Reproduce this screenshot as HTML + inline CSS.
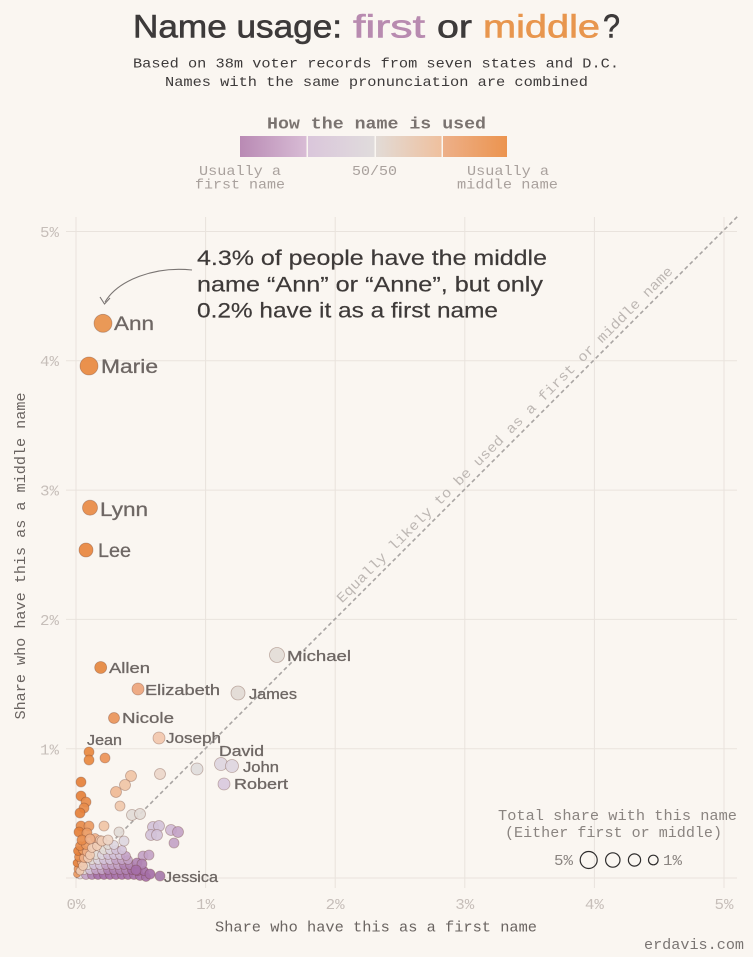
<!DOCTYPE html>
<html>
<head>
<meta charset="utf-8">
<style>
  html,body{margin:0;padding:0;background:#faf6f1;}
  svg{display:block;}
  .sans{font-family:"Liberation Sans",sans-serif;}
  .mono{font-family:"Liberation Mono",monospace;}
  .lbl{font-family:"Liberation Sans",sans-serif;fill:#6e6764;stroke:#6e6764;stroke-width:0.3;}
  .dots circle{stroke:rgba(100,55,40,0.35);stroke-width:0.8;fill-opacity:0.92;}
  .p0{fill:#a56fa8}.p1{fill:#b083b3}.p2{fill:#c3a3c7}.p3{fill:#d3c2d9}.p4{fill:#ddd6df}
  .g{fill:#e2dbd7}.o1{fill:#efcbb3}.o2{fill:#eeaf87}.o3{fill:#ea9a62}.o4{fill:#e78b4a}.o5{fill:#e5803a}
</style>
</head>
<body>
<svg width="753" height="957" viewBox="0 0 753 957" xmlns="http://www.w3.org/2000/svg">
  <defs>
    <linearGradient id="s1" x1="0" x2="1" y1="0" y2="0"><stop offset="0" stop-color="#b98ab4"/><stop offset="1" stop-color="#d8bcd5"/></linearGradient>
    <linearGradient id="s2" x1="0" x2="1" y1="0" y2="0"><stop offset="0" stop-color="#dac6db"/><stop offset="1" stop-color="#e0dcdc"/></linearGradient>
    <linearGradient id="s3" x1="0" x2="1" y1="0" y2="0"><stop offset="0" stop-color="#e2dbd6"/><stop offset="1" stop-color="#efc09e"/></linearGradient>
    <linearGradient id="s4" x1="0" x2="1" y1="0" y2="0"><stop offset="0" stop-color="#edb089"/><stop offset="1" stop-color="#ec944f"/></linearGradient>
  </defs>
  <rect x="0" y="0" width="753" height="957" fill="#faf6f1"/>

  <!-- Title -->
  <g class="sans" font-size="32" stroke-width="0.6">
    <text x="133" y="37.5" textLength="209" lengthAdjust="spacingAndGlyphs" fill="#3d3a3a" stroke="#3d3a3a">Name usage:</text>
    <text x="353" y="37.5" textLength="72" lengthAdjust="spacingAndGlyphs" fill="#b88bb0" stroke="#b88bb0">first</text>
    <text x="437" y="37.5" textLength="35" lengthAdjust="spacingAndGlyphs" fill="#3d3a3a" stroke="#3d3a3a">or</text>
    <text x="483" y="37.5" textLength="117" lengthAdjust="spacingAndGlyphs" fill="#e8964e" stroke="#e8964e">middle</text>
    <text x="603" y="37.5" font-size="33" textLength="17" lengthAdjust="spacingAndGlyphs" fill="#3d3a3a" stroke="#3d3a3a">?</text>
  </g>

  <!-- Subtitle -->
  <g class="mono" font-size="14" fill="#3d3a3a">
    <text x="133" y="67.5" textLength="486" lengthAdjust="spacingAndGlyphs">Based on 38m voter records from seven states and D.C.</text>
    <text x="165" y="86" textLength="423" lengthAdjust="spacingAndGlyphs">Names with the same pronunciation are combined</text>
  </g>

  <!-- Color legend -->
  <text class="mono" x="267" y="128.5" font-size="17" font-weight="bold" fill="#7a7370" textLength="219" lengthAdjust="spacingAndGlyphs">How the name is used</text>
  <rect x="240" y="136" width="66.5" height="21" fill="url(#s1)"/>
  <rect x="308" y="136" width="66.5" height="21" fill="url(#s2)"/>
  <rect x="376" y="136" width="65.5" height="21" fill="url(#s3)"/>
  <rect x="443" y="136" width="64" height="21" fill="url(#s4)"/>
  <g class="mono" font-size="14" fill="#a9a19d">
    <text x="199" y="175" textLength="82" lengthAdjust="spacingAndGlyphs">Usually a</text>
    <text x="195" y="188.5" textLength="90" lengthAdjust="spacingAndGlyphs">first name</text>
    <text x="352" y="175" textLength="45" lengthAdjust="spacingAndGlyphs">50/50</text>
    <text x="467" y="175" textLength="82" lengthAdjust="spacingAndGlyphs">Usually a</text>
    <text x="457" y="188.5" textLength="101" lengthAdjust="spacingAndGlyphs">middle name</text>
  </g>

  <!-- Grid -->
  <g stroke="#e9e3dd" stroke-width="1">
    <line x1="76" y1="217" x2="76" y2="888"/>
    <line x1="205.6" y1="217" x2="205.6" y2="888"/>
    <line x1="335.2" y1="217" x2="335.2" y2="888"/>
    <line x1="464.8" y1="217" x2="464.8" y2="888"/>
    <line x1="594.4" y1="217" x2="594.4" y2="888"/>
    <line x1="724" y1="217" x2="724" y2="888"/>
    <line x1="66" y1="231.5" x2="737" y2="231.5"/>
    <line x1="66" y1="360.8" x2="737" y2="360.8"/>
    <line x1="66" y1="490.1" x2="737" y2="490.1"/>
    <line x1="66" y1="619.4" x2="737" y2="619.4"/>
    <line x1="66" y1="748.7" x2="737" y2="748.7"/>
    <line x1="66" y1="878" x2="737" y2="878"/>
  </g>

  <!-- Tick labels -->
  <g class="mono" font-size="15" fill="#c6beb9">
    <text x="59" y="237" text-anchor="end" textLength="19" lengthAdjust="spacingAndGlyphs">5%</text>
    <text x="59" y="366" text-anchor="end" textLength="19" lengthAdjust="spacingAndGlyphs">4%</text>
    <text x="59" y="495.5" text-anchor="end" textLength="19" lengthAdjust="spacingAndGlyphs">3%</text>
    <text x="59" y="625" text-anchor="end" textLength="19" lengthAdjust="spacingAndGlyphs">2%</text>
    <text x="59" y="754.5" text-anchor="end" textLength="19" lengthAdjust="spacingAndGlyphs">1%</text>
    <text x="76" y="909" text-anchor="middle" textLength="19" lengthAdjust="spacingAndGlyphs">0%</text>
    <text x="205.6" y="909" text-anchor="middle" textLength="19" lengthAdjust="spacingAndGlyphs">1%</text>
    <text x="335.2" y="909" text-anchor="middle" textLength="19" lengthAdjust="spacingAndGlyphs">2%</text>
    <text x="464.8" y="909" text-anchor="middle" textLength="19" lengthAdjust="spacingAndGlyphs">3%</text>
    <text x="594.4" y="909" text-anchor="middle" textLength="19" lengthAdjust="spacingAndGlyphs">4%</text>
    <text x="724" y="909" text-anchor="middle" textLength="19" lengthAdjust="spacingAndGlyphs">5%</text>
  </g>

  <!-- Axis titles -->
  <text class="mono" x="215" y="931.5" font-size="14.5" fill="#6a6461" textLength="322" lengthAdjust="spacingAndGlyphs">Share who have this as a first name</text>
  <text class="mono" transform="translate(25,556) rotate(-90)" x="0" y="0" text-anchor="middle" font-size="14.5" fill="#6a6461" textLength="327" lengthAdjust="spacingAndGlyphs">Share who have this as a middle name</text>

  <!-- Diagonal -->
  <line x1="76" y1="878" x2="738" y2="216" stroke="#a9a5a3" stroke-width="1.6" stroke-dasharray="4,3"/>
  <text class="mono" transform="translate(512,442) rotate(-45)" x="0" y="-6" text-anchor="middle" font-size="14" fill="#bdb7b3" textLength="469" lengthAdjust="spacingAndGlyphs">Equally likely to be used as a first or middle name</text>

  <!-- Dots -->
  <g class="dots">
    <circle cx="80" cy="875" r="4" class="p4"/><circle cx="86" cy="875" r="4.5" class="p2"/><circle cx="92" cy="875" r="4.5" class="p1"/><circle cx="98" cy="875" r="4.5" class="p0"/><circle cx="104" cy="875" r="4.5" class="p0"/><circle cx="110" cy="875" r="4.5" class="p0"/><circle cx="116" cy="875" r="4.5" class="p0"/><circle cx="122" cy="875" r="4.5" class="p0"/><circle cx="128" cy="875" r="4.5" class="p0"/><circle cx="134" cy="875" r="4.5" class="p0"/><circle cx="140" cy="876" r="4.5" class="p0"/><circle cx="146" cy="877" r="4.5" class="p0"/>
    <circle cx="84" cy="870" r="4.5" class="g"/><circle cx="90" cy="870" r="4.5" class="p3"/><circle cx="96" cy="870" r="4.5" class="p2"/><circle cx="102" cy="870" r="4.5" class="p2"/><circle cx="108" cy="870" r="4.5" class="p1"/><circle cx="114" cy="870" r="4.5" class="p1"/><circle cx="120" cy="870" r="4.5" class="p1"/><circle cx="126" cy="870" r="4.5" class="p1"/><circle cx="132" cy="870" r="4.5" class="p0"/><circle cx="138" cy="871" r="4.5" class="p0"/><circle cx="144" cy="871" r="4.5" class="p0"/>
    <circle cx="88" cy="865" r="4.5" class="g"/><circle cx="94" cy="865" r="4.5" class="p3"/><circle cx="100" cy="865" r="4.5" class="p3"/><circle cx="106" cy="865" r="4.5" class="p2"/><circle cx="112" cy="865" r="4.5" class="p2"/><circle cx="118" cy="865" r="4.5" class="p2"/><circle cx="124" cy="865" r="4.5" class="p1"/><circle cx="130" cy="865" r="4.5" class="p1"/>
    <circle cx="92" cy="860" r="4.5" class="g"/><circle cx="98" cy="860" r="4.5" class="p4"/><circle cx="104" cy="860" r="4.5" class="p3"/><circle cx="110" cy="860" r="4.5" class="p3"/><circle cx="116" cy="860" r="4.5" class="p2"/><circle cx="122" cy="860" r="4.5" class="p2"/><circle cx="128" cy="860" r="4.5" class="p2"/>
    <circle cx="96" cy="855" r="4.5" class="g"/><circle cx="102" cy="855" r="4.5" class="p4"/><circle cx="108" cy="855" r="4.5" class="p3"/><circle cx="114" cy="855" r="4.5" class="p3"/><circle cx="120" cy="855" r="4.5" class="p3"/><circle cx="126" cy="856" r="4.5" class="p2"/>
    <circle cx="104" cy="850" r="4.5" class="g"/><circle cx="110" cy="850" r="4.5" class="p4"/><circle cx="116" cy="850" r="4.5" class="p3"/><circle cx="122" cy="850" r="4.5" class="p3"/>
    <circle cx="108" cy="845" r="4.5" class="g"/><circle cx="114" cy="845" r="4.5" class="p4"/>
    <circle cx="143" cy="856" r="5" class="p2"/><circle cx="149" cy="855" r="5" class="p2"/><circle cx="137" cy="863" r="5" class="p1"/><circle cx="142" cy="864" r="5" class="p1"/><circle cx="150" cy="874" r="5" class="p0"/><circle cx="136" cy="870" r="5" class="p0"/>
    <circle cx="77" cy="874" r="3.5" class="o3"/><circle cx="78" cy="869" r="4" class="o3"/><circle cx="80" cy="871" r="4" class="o1"/><circle cx="77" cy="863" r="4" class="o5"/><circle cx="82" cy="862" r="4.5" class="o2"/><circle cx="83" cy="866" r="4.5" class="o1"/><circle cx="79" cy="857" r="4.5" class="o4"/><circle cx="84" cy="858" r="4.5" class="o2"/><circle cx="88" cy="858" r="4.5" class="o1"/><circle cx="78" cy="851" r="4.5" class="o5"/><circle cx="83" cy="850" r="4.5" class="o3"/><circle cx="87" cy="852" r="4.5" class="o2"/><circle cx="90" cy="855" r="4.5" class="o1"/><circle cx="80" cy="846" r="4.5" class="o4"/><circle cx="86" cy="845" r="4.5" class="o3"/><circle cx="92" cy="848" r="4.5" class="o1"/><circle cx="97" cy="846" r="4.5" class="o1"/><circle cx="95" cy="838" r="4.5" class="o2"/><circle cx="100" cy="840" r="4.5" class="o1"/>
    <circle cx="81" cy="782" r="5" class="o5"/><circle cx="81" cy="796" r="5" class="o5"/><circle cx="86" cy="802" r="5" class="o4"/><circle cx="84" cy="808" r="5" class="o4"/><circle cx="80" cy="813" r="5" class="o5"/>
    <circle cx="81" cy="826" r="5" class="o4"/><circle cx="89" cy="826" r="5" class="o3"/><circle cx="79" cy="832" r="5" class="o5"/><circle cx="87" cy="833" r="5" class="o3"/><circle cx="82" cy="840" r="5" class="o4"/><circle cx="90" cy="839" r="5" class="o2"/>
    <circle cx="131" cy="776" r="5.5" fill="#f0c4a6"/><circle cx="125" cy="785" r="5.5" fill="#f0c4a6"/><circle cx="116" cy="792" r="5.5" fill="#efb995"/><circle cx="120" cy="806" r="5" fill="#f0c8ad"/><circle cx="104" cy="826" r="5" fill="#f0c4a6"/><circle cx="102" cy="841" r="5" class="o1"/><circle cx="108" cy="840" r="5" fill="#eed5c6"/>
    <circle cx="132" cy="815" r="5.5" class="g"/><circle cx="140" cy="814" r="5.5" class="g"/><circle cx="119" cy="832" r="5" class="g"/><circle cx="124" cy="841" r="5" class="p4"/>
    <circle cx="153" cy="827" r="5.5" class="p3"/><circle cx="159" cy="826" r="5.5" class="p3"/><circle cx="151" cy="835" r="5.5" class="p3"/><circle cx="157" cy="835" r="5.5" class="p3"/><circle cx="171" cy="830" r="5.5" fill="#d0bad6"/><circle cx="178" cy="832" r="5.5" class="p2"/><circle cx="174" cy="843" r="5" class="p2"/>
    <circle cx="160" cy="774" r="5.5" fill="#ecd6ca"/><circle cx="197" cy="769" r="6" fill="#dfdcdc"/>
    <circle cx="89" cy="752" r="5" fill="#e8883f"/><circle cx="89" cy="760" r="5" fill="#e8883f"/><circle cx="105" cy="758" r="5" fill="#eb9358"/>
    <circle cx="160" cy="876" r="5" fill="#a679ab"/>
    <circle cx="224" cy="784" r="6" fill="#d9c9de"/>
    <circle cx="221" cy="764" r="6.5" fill="#ddd5e0"/>
    <circle cx="232" cy="766" r="6.5" fill="#ddd5e0"/>
    <circle cx="159" cy="738" r="6" fill="#f2c7ae"/>
    <circle cx="114" cy="718" r="5.5" fill="#e9945a"/>
    <circle cx="138" cy="689" r="6" fill="#eda47c"/>
    <circle cx="100.7" cy="667.5" r="6" fill="#e5873f"/>
    <circle cx="238" cy="693" r="7" fill="#e2dad5"/>
    <circle cx="277" cy="655" r="7.5" fill="#e3dcd7"/>
    <circle cx="86" cy="550" r="7" fill="#e8853f"/>
    <circle cx="90" cy="507.7" r="7.5" fill="#e88a45"/>
    <circle cx="89" cy="366" r="9" fill="#e8883f"/>
    <circle cx="103" cy="323.3" r="9" fill="#e8904a"/>
  </g>

  <!-- Labels -->
  <g class="lbl" font-size="19">
    <text x="114" y="330" textLength="40" lengthAdjust="spacingAndGlyphs">Ann</text>
    <text x="101" y="373" textLength="57" lengthAdjust="spacingAndGlyphs">Marie</text>
    <text x="100" y="516" textLength="48" lengthAdjust="spacingAndGlyphs">Lynn</text>
    <text x="98" y="557" textLength="33" lengthAdjust="spacingAndGlyphs">Lee</text>
  </g>
  <g class="lbl" font-size="15">
    <text x="109" y="673" textLength="41" lengthAdjust="spacingAndGlyphs">Allen</text>
    <text x="145" y="695" textLength="75" lengthAdjust="spacingAndGlyphs">Elizabeth</text>
    <text x="122" y="723" textLength="52" lengthAdjust="spacingAndGlyphs">Nicole</text>
    <text x="87" y="745" textLength="35" lengthAdjust="spacingAndGlyphs">Jean</text>
    <text x="166" y="743" textLength="55" lengthAdjust="spacingAndGlyphs">Joseph</text>
    <text x="287" y="661" textLength="64" lengthAdjust="spacingAndGlyphs">Michael</text>
    <text x="249" y="699" textLength="48" lengthAdjust="spacingAndGlyphs">James</text>
    <text x="219" y="756" textLength="45" lengthAdjust="spacingAndGlyphs">David</text>
    <text x="243" y="772" textLength="36" lengthAdjust="spacingAndGlyphs">John</text>
    <text x="234" y="789" textLength="54" lengthAdjust="spacingAndGlyphs">Robert</text>
    <text x="164" y="882" textLength="54" lengthAdjust="spacingAndGlyphs">Jessica</text>
  </g>

  <!-- Annotation -->
  <path d="M192,270 C155,266 118,280 105,302" fill="none" stroke="#7a7573" stroke-width="1.1"/>
  <path d="M100,297 L104.5,304 L110,298" fill="none" stroke="#7a7573" stroke-width="1.1"/>
  <g class="sans" font-size="21.5" fill="#3e3a39" stroke="#3e3a39" stroke-width="0.2">
    <text x="197" y="265" textLength="350" lengthAdjust="spacingAndGlyphs">4.3% of people have the middle</text>
    <text x="197" y="291.5" textLength="346" lengthAdjust="spacingAndGlyphs">name “Ann” or “Anne”, but only</text>
    <text x="197" y="317.5" textLength="301" lengthAdjust="spacingAndGlyphs">0.2% have it as a first name</text>
  </g>

  <!-- Size legend -->
  <g class="mono" font-size="14.5" fill="#8a8480">
    <text x="498" y="820" textLength="239" lengthAdjust="spacingAndGlyphs">Total share with this name</text>
    <text x="505" y="837" textLength="217" lengthAdjust="spacingAndGlyphs">(Either first or middle)</text>
    <text x="554" y="865" textLength="19" lengthAdjust="spacingAndGlyphs">5%</text>
    <text x="663" y="865" textLength="19" lengthAdjust="spacingAndGlyphs">1%</text>
  </g>
  <g fill="none" stroke="#2e2c2c" stroke-width="1.2">
    <circle cx="588.7" cy="860" r="8.5"/>
    <circle cx="612.8" cy="860" r="7.2"/>
    <circle cx="634.5" cy="860" r="6.1"/>
    <circle cx="653.3" cy="860" r="4.8"/>
  </g>

  <text class="mono" x="644" y="949" font-size="14.5" fill="#7a7573" textLength="100" lengthAdjust="spacingAndGlyphs">erdavis.com</text>
</svg>
</body>
</html>
